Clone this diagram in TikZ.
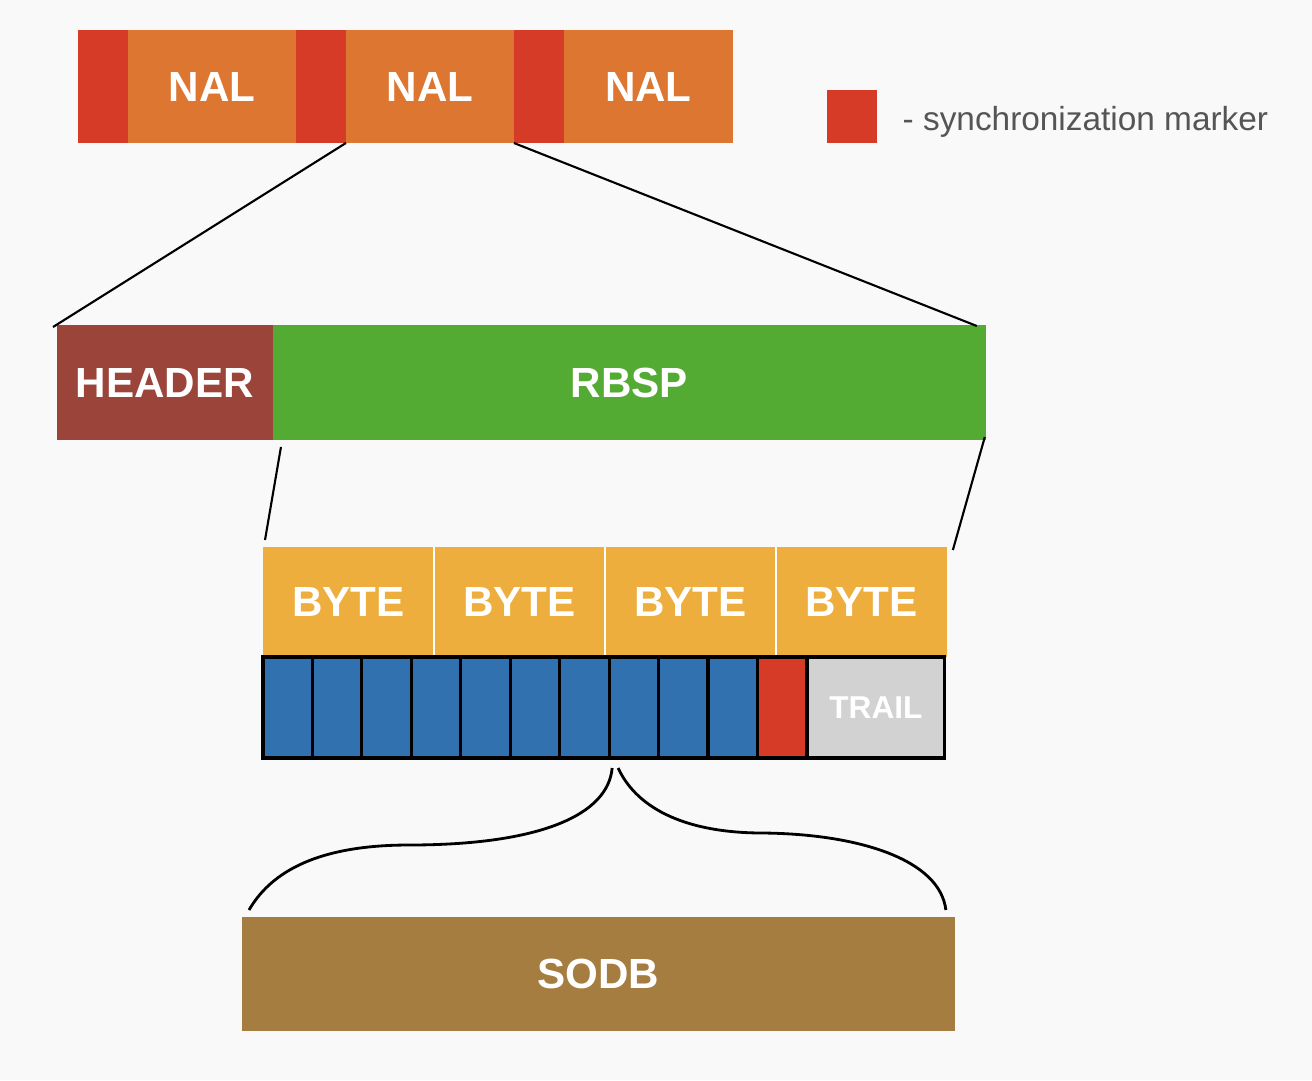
\documentclass[tikz,border=0pt]{standalone}
\usepackage{fontspec}
\setmainfont{Liberation Sans}
\usepackage{xcolor}
\usetikzlibrary{positioning, calc}

\definecolor{bgwhite}{HTML}{F9F9F9}
\definecolor{syncred}{HTML}{D63B28}
\definecolor{nalorange}{HTML}{DC7630}
\definecolor{headerbrown}{HTML}{9B443A}
\definecolor{rbspgreen}{HTML}{53AB34}
\definecolor{byteyellow}{HTML}{EDAE3E}
\definecolor{bitblue}{HTML}{3171B0}
\definecolor{trailgray}{HTML}{D2D2D2}
\definecolor{sodbbrown}{HTML}{A67D40}
\definecolor{legendgray}{HTML}{555555}

\begin{document}
\begin{tikzpicture}[x=0.02cm, y=-0.02cm, thick]
  \tikzstyle{block} = [rectangle, inner sep=0pt, outer sep=0pt, anchor=north west, text=white, font=\bfseries\fontsize{24}{28}\selectfont]
  \tikzstyle{bitcell} = [rectangle, draw=black, line width=1.8pt, inner sep=0pt, outer sep=0pt, anchor=north west, minimum width=0.989cm, minimum height=2.02cm]
  \tikzstyle{zoomline} = [draw=black, line width=1.2pt]
  \tikzstyle{brace} = [draw=black, line width=1.6pt]

  \fill[bgwhite] (0,0) rectangle (1312,1080);
  \useasboundingbox (0,0) rectangle (1312,1080);

  % stream of NAL units
  \node[block, fill=syncred, minimum width=1cm, minimum height=2.26cm] (sync1) at (78,30) {};
  \node[block, fill=nalorange, minimum width=3.36cm, minimum height=2.26cm, right=0pt of sync1] (nal1) {NAL};
  \node[block, fill=syncred, minimum width=1cm, minimum height=2.26cm, right=0pt of nal1] (sync2) {};
  \node[block, fill=nalorange, minimum width=3.36cm, minimum height=2.26cm, right=0pt of sync2] (nal2) {NAL};
  \node[block, fill=syncred, minimum width=1cm, minimum height=2.26cm, right=0pt of nal2] (sync3) {};
  \node[block, fill=nalorange, minimum width=3.38cm, minimum height=2.26cm, right=0pt of sync3] (nal3) {NAL};

  % legend
  \node[block, fill=syncred, minimum width=1cm, minimum height=1.06cm] (legendkey) at (827,90) {};
  \node[right=0.5cm of legendkey, yshift=-3pt, inner sep=0pt, text=legendgray, font=\fontsize{19}{22}\selectfont] (legendtext) {- synchronization marker};

  % header + payload
  \node[block, fill=headerbrown, minimum width=4.32cm, minimum height=2.3cm] (header) at (57,325) {HEADER};
  \node[block, fill=rbspgreen, minimum width=14.26cm, minimum height=2.3cm, right=0pt of header] (rbsp) {RBSP};

  % bytes
  \node[block, fill=byteyellow, minimum width=3.42cm, minimum height=2.2cm] (byte1) at (263,547) {BYTE};
  \foreach \i [count=\j from 1] in {2,3,4}
    \node[block, fill=byteyellow, minimum width=3.42cm, minimum height=2.2cm, right=0pt of byte\j] (byte\i) {BYTE};
  \foreach \i in {1,2,3}
    \draw[white, line width=1pt] (byte\i.north east) -- (byte\i.south east);

  % bits
  \foreach \i in {1,...,10}
    \node[bitcell, fill=bitblue] (bit\i) at ({263+(\i-1)*49.45},657) {};
  \node[bitcell, fill=syncred, right=0pt of bit10] (bit11) {};
  \node[bitcell, fill=trailgray, minimum width=2.76cm, right=0pt of bit11, text=white, font=\bfseries\fontsize{18}{21}\selectfont] (trail) {TRAIL};

  % data bits
  \node[block, fill=sodbbrown, minimum width=14.26cm, minimum height=2.28cm] (sodb) at (242,917) {SODB};

  % zoom lines
  \draw[zoomline] (nal2.south west) -- ([shift={(-4,2)}]header.north west);
  \draw[zoomline] (nal2.south east) -- ([shift={(-9,1)}]rbsp.north east);
  \draw[zoomline] ([shift={(8,7)}]rbsp.south west) -- ([shift={(2,-7)}]byte1.north west);
  \draw[zoomline] ([shift={(-1,-3)}]rbsp.south east) -- ([shift={(6,3)}]byte4.north east);

  % brace
  \coordinate (braceleft) at ([shift={(3,10)}]bit8.south west);
  \coordinate (braceright) at ([shift={(9,10)}]bit8.south west);
  \draw[brace] (braceleft) .. controls (608,815) and (540,845) .. (409,845)
    .. controls (330,845) and (275,865) .. ([shift={(7,-7)}]sodb.north west);
  \draw[brace] (braceright) .. controls (635,805) and (680,833) .. (763,833)
    .. controls (860,834) and (940,860) .. ([shift={(-9,-7)}]sodb.north east);
\end{tikzpicture}
\end{document}
